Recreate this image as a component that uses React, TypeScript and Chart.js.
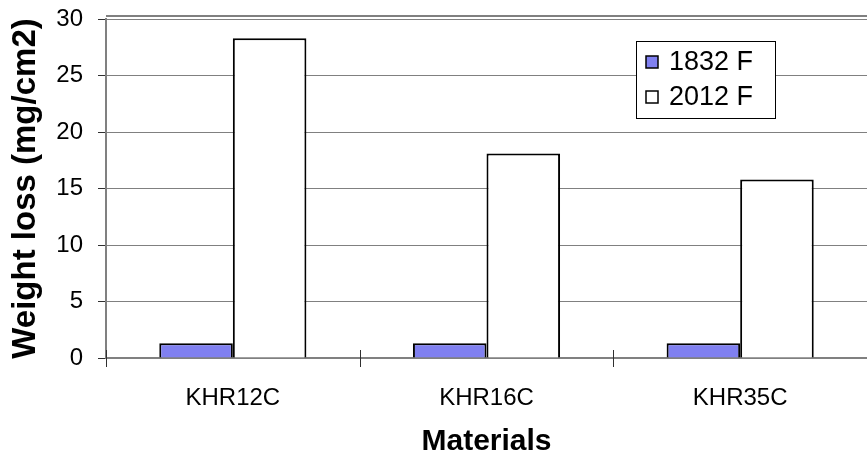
import React, { useEffect, useRef } from "react";
import { Chart, registerables } from "chart.js";

Chart.register(...registerables);

const categories = ["KHR12C", "KHR16C", "KHR35C"];
const series1832 = [1.3, 1.3, 1.3];
const series2012 = [28.3, 18.1, 15.8];
const seriesLabels = ["1832 F", "2012 F"];
const yTicks = [0, 5, 10, 15, 20, 25, 30];

const FONT = "'Liberation Sans', Arial, sans-serif";

const legendPlugin = {
  id: "insideLegend",
  afterDraw(chart: any) {
    const ctx = chart.ctx;
    const x = 636, y = 41, w = 139, h = 77;
    ctx.save();
    ctx.fillStyle = "#ffffff";
    ctx.fillRect(x, y, w, h);
    ctx.strokeStyle = "#000000";
    ctx.lineWidth = 1;
    ctx.strokeRect(x + 0.5, y + 0.5, w, h);
    ctx.font = `27px ${FONT}`;
    ctx.textBaseline = "middle";
    ctx.textAlign = "left";
    chart.data.datasets.forEach((ds: any, i: number) => {
      const cy = y + 21 + i * 35;
      ctx.fillStyle = ds.backgroundColor;
      ctx.fillRect(x + 10, cy - 6, 12, 12);
      ctx.strokeStyle = "#000";
      ctx.lineWidth = 1.5;
      ctx.strokeRect(x + 10, cy - 6, 12, 12);
      ctx.fillStyle = "#000";
      ctx.fillText(ds.label, x + 33, cy + 1);
    });
    ctx.restore();
  },
};

const framePlugin = {
  id: "frameAndTicks",
  afterDatasetsDraw(chart: any) {
    const ctx = chart.ctx;
    const { left, right, top, bottom } = chart.chartArea;
    const xs = chart.scales.x;
    ctx.save();
    ctx.strokeStyle = "#808080";
    ctx.lineWidth = 2;
    ctx.beginPath();
    ctx.moveTo(left, top - 3);
    ctx.lineTo(right, top - 3);
    ctx.stroke();
    ctx.strokeStyle = "#303030";
    ctx.lineWidth = 1;
    const n = chart.data.labels.length;
    for (let i = 0; i <= n; i++) {
      const px = Math.round(xs.getPixelForValue(i - 0.5)) + 0.5;
      ctx.beginPath();
      ctx.moveTo(px, bottom - 8);
      ctx.lineTo(px, bottom + 9);
      ctx.stroke();
    }
    ctx.restore();
  },
};

export default function App() {
  const ref = useRef<HTMLCanvasElement>(null);
  useEffect(() => {
    document.body.style.margin = "0";
    const chart = new Chart(ref.current!, {
      type: "bar",
      data: {
        labels: categories,
        datasets: [
          {
            label: seriesLabels[0],
            data: series1832,
            backgroundColor: "#8080f0",
            borderColor: "#000000",
            borderWidth: 2,
            categoryPercentage: 0.58,
            barPercentage: 1,
          },
          {
            label: seriesLabels[1],
            data: series2012,
            backgroundColor: "#ffffff",
            borderColor: "#000000",
            borderWidth: 2,
            categoryPercentage: 0.58,
            barPercentage: 1,
          },
        ],
      },
      options: {
        animation: false,
        responsive: false,
        maintainAspectRatio: false,
        layout: { padding: { top: 19, right: 0, bottom: 0, left: 0 } },
        plugins: { legend: { display: false }, tooltip: { enabled: false } },
        scales: {
          x: {
            grid: { offset: true, display: false, drawTicks: false },
            border: { color: "#808080", width: 2 },
            ticks: { color: "#000", font: { family: FONT, size: 24 }, padding: 26 },
            title: {
              display: true,
              text: "Materials",
              color: "#000",
              font: { family: FONT, size: 30, weight: "bold", lineHeight: 1 },
              padding: { top: 0, bottom: -4 },
            },
            afterFit(scale: any) {
              scale.height = 95;
              scale.paddingLeft = 0;
              scale.paddingRight = 0;
            },
          },
          y: {
            min: 0,
            max: 30,
            afterBuildTicks(scale: any) {
              scale.ticks = yTicks.map((v) => ({ value: v }));
            },
            grid: { color: "#808080", tickColor: "#303030", tickLength: 8, lineWidth: 1 },
            border: { color: "#808080", width: 2 },
            ticks: { color: "#000", font: { family: FONT, size: 24 }, padding: 15 },
            title: {
              display: true,
              text: "Weight loss (mg/cm2)",
              color: "#000",
              font: { family: FONT, size: 33, weight: "bold" },
              padding: { top: 6, bottom: 0 },
            },
            afterFit(scale: any) {
              scale.width = 106;
              scale.paddingTop = 0;
              scale.paddingBottom = 0;
            },
          },
        },
      },
      plugins: [framePlugin, legendPlugin],
    });
    return () => chart.destroy();
  }, []);
  return (
    <div style={{ width: 867, height: 453 }}>
      <canvas ref={ref} width={867} height={453} />
    </div>
  );
}
